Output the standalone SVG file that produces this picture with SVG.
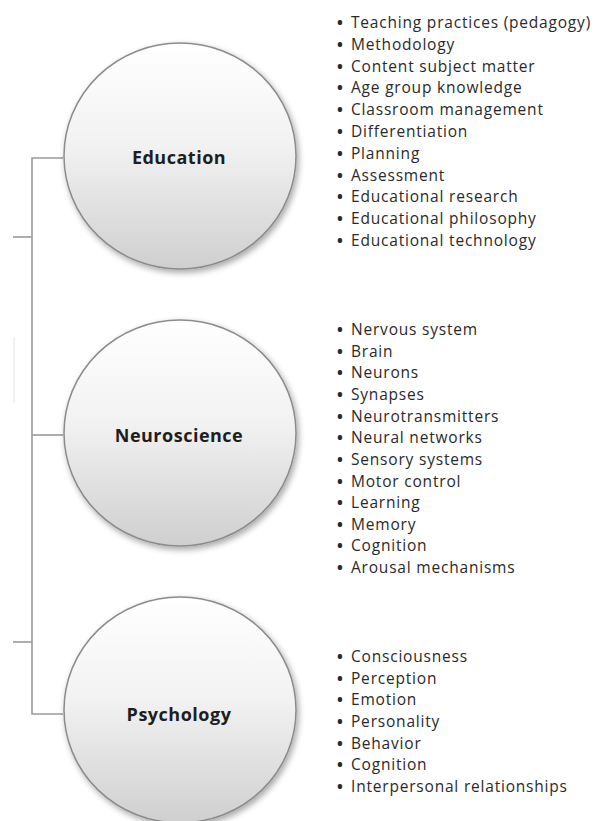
<svg xmlns="http://www.w3.org/2000/svg" width="606" height="821" viewBox="0 0 606 821">
<defs>
<linearGradient id="g" x1="0" y1="0" x2="0" y2="1">
<stop offset="0" stop-color="#ffffff"/>
<stop offset="0.45" stop-color="#f2f2f2"/>
<stop offset="1" stop-color="#cfcfcf"/>
</linearGradient>
<filter id="sh" x="-20%" y="-20%" width="140%" height="140%">
<feGaussianBlur in="SourceAlpha" stdDeviation="3"/>
<feOffset dx="2" dy="3" result="b"/>
<feComponentTransfer><feFuncA type="linear" slope="0.35"/></feComponentTransfer>
<feMerge><feMergeNode/><feMergeNode in="SourceGraphic"/></feMerge>
</filter>
<style>
.c{fill:url(#g);stroke:#8c8c8c;stroke-width:1.5;filter:url(#sh)}
.t{font-family:"Open Sans","DejaVu Sans",sans-serif;font-weight:bold;font-size:18px;letter-spacing:0.5px;fill:#1e1e1e;text-anchor:middle}
.l{font-family:"Open Sans","DejaVu Sans",sans-serif;font-size:15.5px;letter-spacing:0.8px;fill:#2a2a2a}
.b{font-weight:bold}
.k{fill:none;stroke:#9a9a9a;stroke-width:1.6}
</style>
</defs>
<rect width="606" height="821" fill="#ffffff"/>
<g id="connectors">
<path class="k" d="M63 158H32V714H63"/>
<path class="k" d="M32 435H63"/>
<path class="k" d="M13 237H32"/>
<path class="k" d="M13 642H32"/>
<path d="M14 337V403" stroke="#ececec" stroke-width="1.5" fill="none"/>
</g>
<g id="education">
<ellipse class="c" cx="180" cy="156" rx="116" ry="113"/>
<text class="t" x="179" y="164">Education</text>
</g>
<g id="neuroscience">
<ellipse class="c" cx="180" cy="433" rx="116" ry="113"/>
<text class="t" x="179" y="442">Neuroscience</text>
</g>
<g id="psychology">
<ellipse class="c" cx="180" cy="710" rx="116" ry="113"/>
<text class="t" x="179" y="721">Psychology</text>
</g>
<g id="education-list" class="l">
<text x="337" y="28"><tspan class="b">•</tspan><tspan x="351">Teaching practices (pedagogy)</tspan></text>
<text x="337" y="49.8"><tspan class="b">•</tspan><tspan x="351">Methodology</tspan></text>
<text x="337" y="71.6"><tspan class="b">•</tspan><tspan x="351">Content subject matter</tspan></text>
<text x="337" y="93.4"><tspan class="b">•</tspan><tspan x="351">Age group knowledge</tspan></text>
<text x="337" y="115.2"><tspan class="b">•</tspan><tspan x="351">Classroom management</tspan></text>
<text x="337" y="137"><tspan class="b">•</tspan><tspan x="351">Differentiation</tspan></text>
<text x="337" y="158.8"><tspan class="b">•</tspan><tspan x="351">Planning</tspan></text>
<text x="337" y="180.6"><tspan class="b">•</tspan><tspan x="351">Assessment</tspan></text>
<text x="337" y="202.4"><tspan class="b">•</tspan><tspan x="351">Educational research</tspan></text>
<text x="337" y="224.2"><tspan class="b">•</tspan><tspan x="351">Educational philosophy</tspan></text>
<text x="337" y="246"><tspan class="b">•</tspan><tspan x="351">Educational technology</tspan></text>
</g>
<g id="neuroscience-list" class="l">
<text x="337" y="335"><tspan class="b">•</tspan><tspan x="351">Nervous system</tspan></text>
<text x="337" y="356.6"><tspan class="b">•</tspan><tspan x="351">Brain</tspan></text>
<text x="337" y="378.3"><tspan class="b">•</tspan><tspan x="351">Neurons</tspan></text>
<text x="337" y="399.9"><tspan class="b">•</tspan><tspan x="351">Synapses</tspan></text>
<text x="337" y="421.5"><tspan class="b">•</tspan><tspan x="351">Neurotransmitters</tspan></text>
<text x="337" y="443.2"><tspan class="b">•</tspan><tspan x="351">Neural networks</tspan></text>
<text x="337" y="464.8"><tspan class="b">•</tspan><tspan x="351">Sensory systems</tspan></text>
<text x="337" y="486.5"><tspan class="b">•</tspan><tspan x="351">Motor control</tspan></text>
<text x="337" y="508.1"><tspan class="b">•</tspan><tspan x="351">Learning</tspan></text>
<text x="337" y="529.7"><tspan class="b">•</tspan><tspan x="351">Memory</tspan></text>
<text x="337" y="551.4"><tspan class="b">•</tspan><tspan x="351">Cognition</tspan></text>
<text x="337" y="573"><tspan class="b">•</tspan><tspan x="351">Arousal mechanisms</tspan></text>
</g>
<g id="psychology-list" class="l">
<text x="337" y="662"><tspan class="b">•</tspan><tspan x="351">Consciousness</tspan></text>
<text x="337" y="683.7"><tspan class="b">•</tspan><tspan x="351">Perception</tspan></text>
<text x="337" y="705.3"><tspan class="b">•</tspan><tspan x="351">Emotion</tspan></text>
<text x="337" y="727"><tspan class="b">•</tspan><tspan x="351">Personality</tspan></text>
<text x="337" y="748.7"><tspan class="b">•</tspan><tspan x="351">Behavior</tspan></text>
<text x="337" y="770.3"><tspan class="b">•</tspan><tspan x="351">Cognition</tspan></text>
<text x="337" y="792"><tspan class="b">•</tspan><tspan x="351">Interpersonal relationships</tspan></text>
</g>
</svg>
